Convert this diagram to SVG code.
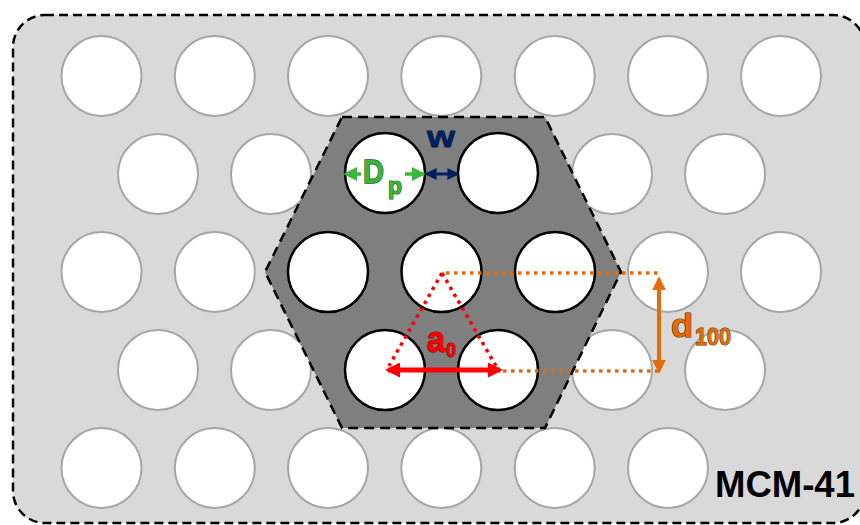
<svg xmlns="http://www.w3.org/2000/svg" width="860" height="525" viewBox="0 0 860 525">
<defs>
<style>
.bg{fill:#d9d9d9;stroke:#000;stroke-width:2.5;stroke-dasharray:9 5}
.op{fill:#fff;stroke:#a6a6a6;stroke-width:2}
.ip{fill:#fff;stroke:#000;stroke-width:2.5}
.hex{fill:#7f7f7f;stroke:#000;stroke-width:2.5;stroke-dasharray:10 6}
.lbl{font-family:"Liberation Sans",Arial,sans-serif;paint-order:stroke;stroke-linejoin:round}
.dotr{fill:none;stroke:#ff0000;stroke-width:3.5;stroke-dasharray:3.5 4.5}
.doto{fill:none;stroke:#e36c09;stroke-width:3.5;stroke-dasharray:3.5 4.5}
</style>
<marker id="hg" viewBox="0 0 10 10" refX="8" refY="5" markerWidth="4" markerHeight="4" orient="auto-start-reverse" markerUnits="strokeWidth"><path d="M0,0L10,5L0,10z" fill="#3cb53c"/></marker>
<marker id="hn" viewBox="0 0 10 10" refX="8" refY="5" markerWidth="4" markerHeight="4" orient="auto-start-reverse" markerUnits="strokeWidth"><path d="M0,0L10,5L0,10z" fill="#002060"/></marker>
<marker id="hr" viewBox="0 0 10 10" refX="8" refY="5" markerWidth="3" markerHeight="3" orient="auto-start-reverse" markerUnits="strokeWidth"><path d="M0,0L10,5L0,10z" fill="#ff0000"/></marker>
<marker id="ho" viewBox="0 0 10 10" refX="8" refY="5" markerWidth="3.5" markerHeight="3.5" orient="auto-start-reverse" markerUnits="strokeWidth"><path d="M0,0L10,5L0,10z" fill="#e36c09"/></marker>
</defs>

<g id="frame"><rect class="bg" x="13" y="15" width="852" height="508" rx="32" ry="32"/></g>

<g id="outer-pores">
<circle class="op" cx="101.5" cy="76" r="40"/><circle class="op" cx="214.8" cy="76" r="40"/><circle class="op" cx="328" cy="76" r="40"/><circle class="op" cx="441.3" cy="76" r="40"/><circle class="op" cx="554.7" cy="76" r="40"/><circle class="op" cx="668" cy="76" r="40"/><circle class="op" cx="781" cy="76" r="40"/>
<circle class="op" cx="158" cy="174" r="40"/><circle class="op" cx="271" cy="174" r="40"/><circle class="op" cx="612" cy="174" r="40"/><circle class="op" cx="725" cy="174" r="40"/>
<circle class="op" cx="101.5" cy="272" r="40"/><circle class="op" cx="214.8" cy="272" r="40"/><circle class="op" cx="668" cy="272" r="40"/><circle class="op" cx="781" cy="272" r="40"/>
<circle class="op" cx="158" cy="370" r="40"/><circle class="op" cx="271" cy="370" r="40"/><circle class="op" cx="612" cy="370" r="40"/><circle class="op" cx="725" cy="370" r="40"/>
<circle class="op" cx="101.5" cy="468" r="40"/><circle class="op" cx="214.8" cy="468" r="40"/><circle class="op" cx="328" cy="468" r="40"/><circle class="op" cx="441.3" cy="468" r="40"/><circle class="op" cx="554.7" cy="468" r="40"/><circle class="op" cx="668" cy="468" r="40"/>
</g>

<g id="unit-cell">
<polygon class="hex" points="342,117 545,117 621,272 545,428 342,428 265,272"/>
</g>

<g id="inner-pores">
<circle class="ip" cx="385" cy="173" r="40"/><circle class="ip" cx="498" cy="173" r="40"/>
<circle class="ip" cx="328" cy="272" r="40"/><circle class="ip" cx="441.5" cy="272" r="40"/><circle class="ip" cx="555" cy="272" r="40"/>
<circle class="ip" cx="385" cy="370" r="40"/><circle class="ip" cx="498" cy="370" r="40"/>
</g>

<g id="connectors">
<path class="dotr" d="M442,273L389,366M442,273L496,366"/>
<path class="doto" d="M446,273H660M503,371H660"/>
<line x1="361" y1="174" x2="346" y2="174" stroke="#3cb53c" stroke-width="3.5" marker-end="url(#hg)"/>
<line x1="405" y1="174" x2="423" y2="174" stroke="#3cb53c" stroke-width="3.5" marker-end="url(#hg)"/>
<line x1="427" y1="174" x2="457" y2="174" stroke="#002060" stroke-width="3" marker-start="url(#hn)" marker-end="url(#hn)"/>
<line x1="388" y1="370" x2="500" y2="370" stroke="#ff0000" stroke-width="5" marker-start="url(#hr)" marker-end="url(#hr)"/>
<line x1="659" y1="279" x2="659" y2="371" stroke="#e36c09" stroke-width="4" marker-start="url(#ho)" marker-end="url(#ho)"/>
</g>

<g id="labels">
<text class="lbl" x="363" y="183" font-size="34" font-weight="bold" fill="#3cb53c" stroke="#1e5a1e" stroke-width="1.4" textLength="21" lengthAdjust="spacingAndGlyphs">D</text>
<text class="lbl" x="388" y="194" font-size="23" font-weight="bold" fill="#3cb53c" stroke="#1e5a1e" stroke-width="1.2" textLength="14" lengthAdjust="spacingAndGlyphs">p</text>
<text class="lbl" x="427" y="147" font-size="29" font-weight="bold" fill="#002060" stroke="#00103a" stroke-width="0.8" textLength="28" lengthAdjust="spacingAndGlyphs">w</text>
<text class="lbl" x="427" y="352" font-size="36" font-weight="bold" fill="#ff0000" stroke="#800000" stroke-width="1.2" textLength="18" lengthAdjust="spacingAndGlyphs">a</text>
<text class="lbl" x="446" y="357" font-size="21" font-weight="bold" fill="#ff0000" stroke="#800000" stroke-width="1" textLength="10" lengthAdjust="spacingAndGlyphs">0</text>
<text class="lbl" x="671" y="337" font-size="34" font-weight="bold" fill="#e36c09" stroke="#5a2a00" stroke-width="1.2" textLength="22" lengthAdjust="spacingAndGlyphs">d</text>
<text class="lbl" x="695" y="345" font-size="24" font-weight="bold" fill="#e36c09" stroke="#5a2a00" stroke-width="1" textLength="36" lengthAdjust="spacingAndGlyphs">100</text>
<text class="lbl" x="715" y="497" font-size="36" font-weight="bold" fill="#000" textLength="140" lengthAdjust="spacingAndGlyphs">MCM-41</text>
</g>
</svg>
